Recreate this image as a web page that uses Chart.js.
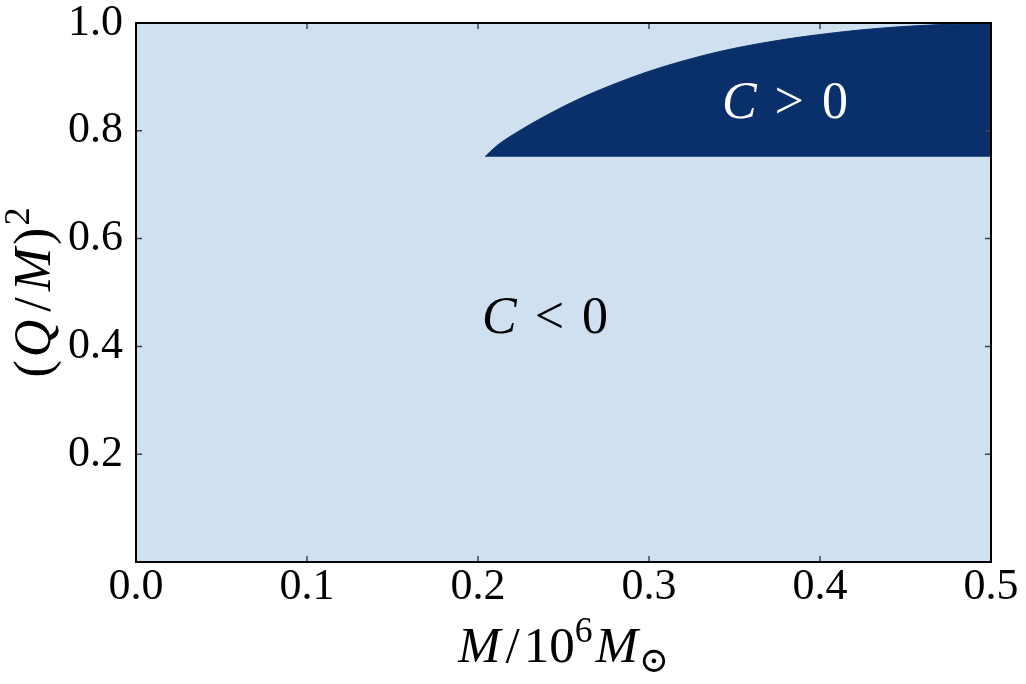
<!DOCTYPE html>
<html>
<head>
<meta charset="utf-8">
<script src="https://cdn.jsdelivr.net/npm/chart.js@4.4.0/dist/chart.umd.min.js"></script>
<style>
  html, body { margin: 0; padding: 0; background: #ffffff; }
  #wrap { width: 1026px; height: 684px; position: relative; }
</style>
</head>
<body>
<div id="wrap"><canvas id="region-chart"></canvas></div>
<script>
// boundary of the C > 0 region
const massValues  = [0.2041, 0.2109, 0.2206, 0.2402, 0.2596, 0.2791, 0.2987, 0.3181, 0.3454, 0.3844, 0.4234, 0.4468, 0.4700, 0.5000];
const chargeUpper = [0.752, 0.772, 0.793, 0.829, 0.860, 0.886, 0.909, 0.928, 0.950, 0.972, 0.987, 0.993, 0.997, 0.999];
const chargeLower = 0.752;

// tick labels
const xTicks = [0.0, 0.1, 0.2, 0.3, 0.4, 0.5];
const yTicks = [0.2, 0.4, 0.6, 0.8, 1.0];

const SERIF = '"Liberation Serif", "DejaVu Serif", serif';
const LIGHT = '#cfe0f1';
const DARK = '#0a306b';

// text labels inside the plot (data coords: centre x, baseline y)
const regionLabels = [
    { parts: [{ t: 'C', it: true, gap: 18 }, { t: '<', gap: 18 }, { t: '0' }], x: 0.2392, y: 0.4247, color: '#000000' },
    { parts: [{ t: 'C', it: true, gap: 18 }, { t: '>', gap: 18 }, { t: '0' }], x: 0.3795, y: 0.824, color: '#ffffff' }
];

// draw a run of text parts (italic / sup / sub), centred on cx
function drawParts(ctx, parts, cx, cy, size, color) {
    const fontOf = (p) => {
        const s = p.sc ? size * 0.7 : size;
        return (p.it ? 'italic ' : '') + s + 'px ' + SERIF;
    };
    let total = 0;
    parts.forEach(p => { ctx.font = fontOf(p); total += ctx.measureText(p.t).width + (p.gap || 0); });
    let x = cx - total / 2;
    ctx.fillStyle = color;
    ctx.textBaseline = 'alphabetic';
    ctx.textAlign = 'left';
    parts.forEach(p => {
        ctx.font = fontOf(p);
        let dy = 0;
        if (p.sc === 'sup') dy = -size * 0.4;
        if (p.sc === 'sub') dy = size * 0.2;
        ctx.fillText(p.t, x, cy + dy);
        x += ctx.measureText(p.t).width + (p.gap || 0);
    });
}

const framePlugin = {
    id: 'frame',
    beforeDatasetsDraw(chart) {
        const { ctx, chartArea: a } = chart;
        ctx.save();
        ctx.fillStyle = LIGHT;
        ctx.fillRect(a.left, a.top, a.right - a.left, a.bottom - a.top);
        ctx.restore();
    },
    afterDraw(chart) {
        const { ctx, chartArea: a, scales } = chart;
        ctx.save();
        // region labels
        regionLabels.forEach(l => {
            drawParts(ctx, l.parts, scales.x.getPixelForValue(l.x), scales.y.getPixelForValue(l.y), 52, l.color);
        });
        // inward ticks on all four sides
        ctx.strokeStyle = '#444444';
        ctx.lineWidth = 1.5;
        const len = 6;
        ctx.beginPath();
        xTicks.forEach(v => {
            const px = scales.x.getPixelForValue(v);
            ctx.moveTo(px, a.bottom); ctx.lineTo(px, a.bottom - len);
            ctx.moveTo(px, a.top); ctx.lineTo(px, a.top + len);
        });
        yTicks.forEach(v => {
            const py = scales.y.getPixelForValue(v);
            ctx.moveTo(a.left, py); ctx.lineTo(a.left + len, py);
            ctx.moveTo(a.right, py); ctx.lineTo(a.right - len, py);
        });
        ctx.stroke();
        // frame
        ctx.strokeStyle = '#000000';
        ctx.lineWidth = 2;
        ctx.strokeRect(a.left, a.top, a.right - a.left, a.bottom - a.top);
        // axis titles
        drawParts(ctx, [
            { t: 'M', it: true, gap: 5 }, { t: '/', gap: 4 }, { t: '10' }, { t: '6', sc: 'sup', gap: 3 },
            { t: 'M', it: true, gap: 1 }, { t: '\u2299', sc: 'sub' }
        ], (a.left + a.right) / 2, 662, 51, '#000000');
        ctx.translate(50, (a.top + a.bottom) / 2);
        ctx.rotate(-Math.PI / 2);
        drawParts(ctx, [
            { t: '(', gap: 3 }, { t: 'Q', it: true, gap: 8 }, { t: '/', gap: 6 }, { t: 'M', it: true, gap: 3 },
            { t: ')', gap: 2 }, { t: '2', sc: 'sup' }
        ], 0, 0, 52, '#000000');
        ctx.restore();
    }
};

const ctx = document.getElementById('region-chart').getContext('2d');

window.regionChart = new Chart(ctx, {
    type: 'line',
    data: {
        datasets: [{
            label: 'C > 0',
            data: massValues.map((m, i) => ({ x: m, y: chargeUpper[i] })),
            backgroundColor: DARK,
            borderColor: DARK,
            borderWidth: 1,
            pointRadius: 0,
            cubicInterpolationMode: 'monotone',
            fill: { value: chargeLower }
        }]
    },
    options: {
        responsive: true,
        maintainAspectRatio: false,
        animation: false,
        layout: {
            padding: { top: 23, right: 35, bottom: 0, left: 0 }
        },
        plugins: {
            legend: { display: false },
            tooltip: { enabled: false }
        },
        scales: {
            x: {
                type: 'linear',
                min: 0,
                max: 0.5,
                afterBuildTicks: (scale) => { scale.ticks = xTicks.map(v => ({ value: v })); },
                afterFit: (scale) => { scale.height = 122; scale.paddingLeft = 0; scale.paddingRight = 0; },
                grid: { display: false },
                border: { display: false },
                ticks: {
                    color: '#000000',
                    padding: -5,
                    maxRotation: 0,
                    font: { family: SERIF, size: 44, lineHeight: 1 },
                    callback: (v) => v.toFixed(1)
                }
            },
            y: {
                type: 'linear',
                min: 0,
                max: 1,
                afterBuildTicks: (scale) => { scale.ticks = yTicks.map(v => ({ value: v })); },
                afterFit: (scale) => { scale.width = 136; scale.paddingTop = 0; scale.paddingBottom = 0; },
                grid: { display: false },
                border: { display: false },
                ticks: {
                    color: '#000000',
                    padding: 5,
                    font: { family: SERIF, size: 44, lineHeight: 1 },
                    callback: (v) => v.toFixed(1)
                }
            }
        }
    },
    plugins: [framePlugin]
});
</script>
</body>
</html>
